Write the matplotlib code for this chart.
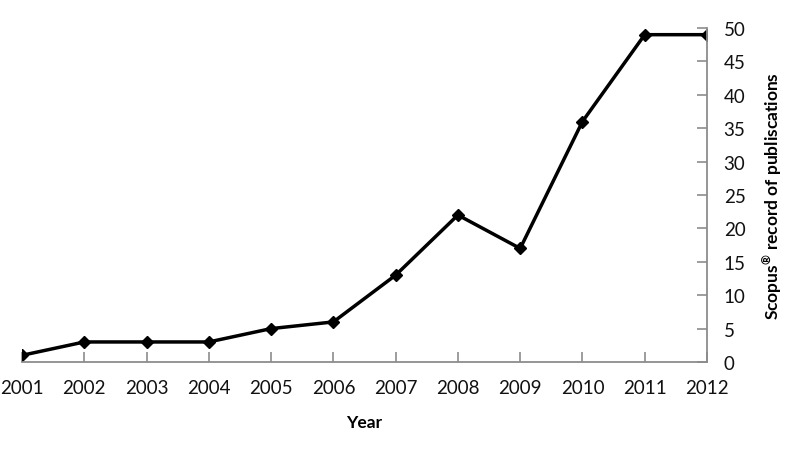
import matplotlib
matplotlib.use("Agg")
import matplotlib.pyplot as plt

years = [2001, 2002, 2003, 2004, 2005, 2006, 2007, 2008, 2009, 2010, 2011, 2012]
pubs = [1, 3, 3, 3, 5, 6, 13, 22, 17, 36, 49, 49]
yticks = list(range(0, 51, 5))

plt.rcParams['font.family'] = ['Lato', 'DejaVu Sans']
plt.rcParams['mathtext.fontset'] = 'custom'
plt.rcParams['mathtext.rm'] = 'Lato'
plt.rcParams['mathtext.bf'] = 'Lato:bold'

fig = plt.figure(figsize=(7.95, 4.52), dpi=100)
ax = fig.add_axes([22/795, 1-363/452, (707-22)/795, (363-29)/452])

ax.plot(years, pubs, color='black', lw=2.5, marker='D', ms=6.5, mfc='black', mec='black')

ax.set_xlim(2001, 2012)
ax.set_ylim(0, 50)
ax.set_xticks(years)
ax.set_yticks(yticks)

for s in ['top', 'left']:
    ax.spines[s].set_visible(False)
for s in ['bottom', 'right']:
    ax.spines[s].set_color('#8c8c8c')
    ax.spines[s].set_linewidth(1.3)

ax.yaxis.tick_right()
ax.yaxis.set_label_position('right')
ax.tick_params(axis='both', direction='in', length=7, width=1.2, color='#8c8c8c',
               labelsize=13.5, labelcolor='#111111')
ax.tick_params(axis='x', pad=12)
ax.tick_params(axis='y', pad=12)

ax.set_xlabel('Year', fontsize=12.5, fontweight='bold', labelpad=13)
ax.set_ylabel(r'Scopus$^{\mathbf{®}}$ record of publiscations', fontsize=12.5,
              fontweight='bold', labelpad=11)

for lab in ax.get_xticklabels() + ax.get_yticklabels():
    lab.set_clip_on(False)

fig.savefig('out.png', dpi=100)
